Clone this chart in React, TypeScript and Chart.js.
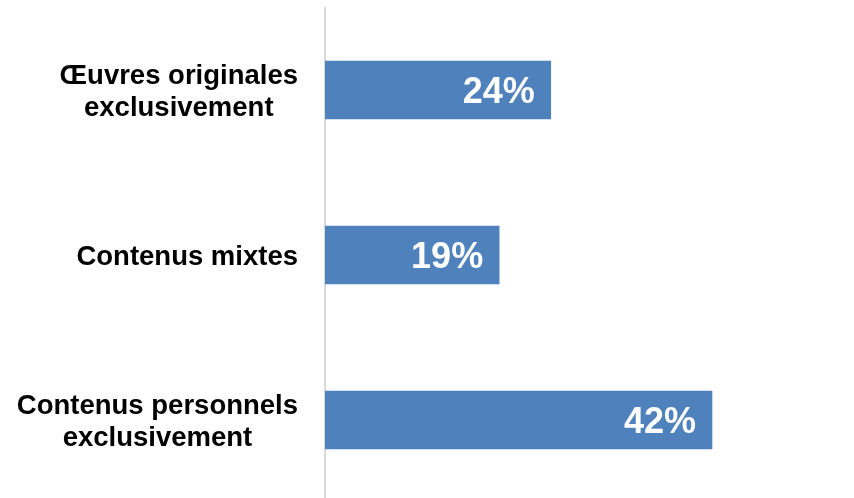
import React, { useEffect, useRef } from "react";
import { Chart, registerables } from "chart.js";

Chart.register(...registerables);

const categories: string[][] = [
  ["Œuvres originales", "exclusivement"],
  ["Contenus mixtes"],
  ["Contenus personnels", "exclusivement"],
];
const values: number[] = [24.5, 18.9, 42.0];
const valueLabels: string[] = ["24%", "19%", "42%"];

const FONT = '"Liberation Sans", Arial, sans-serif';

const labelPlugin = {
  id: "customLabels",
  afterDatasetsDraw(chart: any) {
    const ctx = chart.ctx;
    const yScale = chart.scales.y;
    const meta = chart.getDatasetMeta(0);
    ctx.save();
    // category labels
    const catSize = 27.5;
    ctx.font = `bold ${catSize}px ${FONT}`;
    ctx.fillStyle = "#000000";
    ctx.textBaseline = "alphabetic";
    ctx.textAlign = "center";
    const rightEdge = 298;
    const lineGap = 32;
    categories.forEach((lines, i) => {
      const cy = yScale.getPixelForTick(i);
      const widths = lines.map((l) => ctx.measureText(l).width);
      const maxW = Math.max(...widths);
      const cx = rightEdge - maxW / 2;
      const n = lines.length;
      lines.forEach((l, j) => {
        const mid = cy + (j - (n - 1) / 2) * lineGap;
        ctx.fillText(l, cx, mid + 0.358 * catSize);
      });
    });
    // value labels
    const valSize = 36;
    ctx.font = `bold ${valSize}px ${FONT}`;
    ctx.fillStyle = "#ffffff";
    ctx.textAlign = "right";
    meta.data.forEach((bar: any, i: number) => {
      ctx.fillText(valueLabels[i], bar.x - 16, bar.y + 0.358 * valSize);
    });
    ctx.restore();
  },
};

export default function App() {
  const ref = useRef<HTMLCanvasElement>(null);
  useEffect(() => {
    const chart = new Chart(ref.current as HTMLCanvasElement, {
      type: "bar",
      data: {
        labels: categories.map((c) => c.join(" ")),
        datasets: [
          {
            data: values,
            backgroundColor: "#4F81BD",
            borderWidth: 0,
            barThickness: 58,
          },
        ],
      },
      options: {
        indexAxis: "y",
        animation: false,
        responsive: false,
        maintainAspectRatio: false,
        layout: { padding: { left: 325, right: 68.3, top: 7.5, bottom: 2.5 } },
        plugins: {
          legend: { display: false },
          tooltip: { enabled: false },
        },
        scales: {
          x: { display: false, min: 0, max: 50 },
          y: {
            ticks: { display: false },
            grid: { display: false, drawTicks: false },
            border: { display: true, color: "#d9d9d9", width: 2 },
            afterFit: (s: any) => {
              s.width = 0;
            },
          },
        },
      },
      plugins: [labelPlugin],
    } as any);
    return () => chart.destroy();
  }, []);
  return (
    <div
      style={{
        position: "fixed",
        left: 0,
        top: 0,
        width: 854,
        height: 498,
        overflow: "hidden",
        background: "#ffffff",
      }}
    >
      <canvas ref={ref} width={854} height={505} style={{ display: "block" }} />
    </div>
  );
}
